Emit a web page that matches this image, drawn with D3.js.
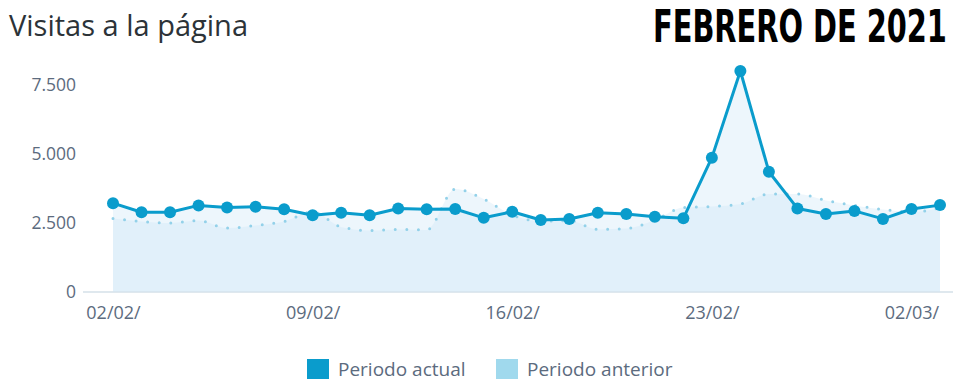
<!DOCTYPE html>
<html><head><meta charset="utf-8">
<script src="https://cdn.jsdelivr.net/npm/d3@7"></script>
<style>
html,body{margin:0;padding:0;background:#fff;}
svg{display:block;}
</style></head>
<body>
<svg id="chart" width="962" height="389"></svg>
<script>
const dates = ["02/02","03/02","04/02","05/02","06/02","07/02","08/02","09/02","10/02","11/02",
  "12/02","13/02","14/02","15/02","16/02","17/02","18/02","19/02","20/02","21/02",
  "22/02","23/02","24/02","25/02","26/02","27/02","28/02","01/03","02/03","03/03"];
const actual = [3200,2870,2870,3120,3040,3070,2980,2760,2850,2760,
  3010,2980,2990,2670,2890,2590,2630,2850,2810,2710,
  2650,4850,7990,4340,3010,2810,2920,2630,2990,3130];
const previous = [2645,2540,2480,2570,2300,2390,2540,2880,2340,2210,
  2250,2230,3710,3350,2770,2550,2570,2250,2280,2590,
  3040,3080,3170,3530,3530,3300,3120,2970,2880,3025];
const yTicks = [0,2500,5000,7500];
const xTickDates = ["02/02","09/02","16/02","23/02","02/03"];
const seriesNames = ["Periodo actual","Periodo anterior"];
const seriesColors = ["#0a9ccc","#a0d9ed"];

const svg = d3.select("#chart");
const x = d3.scalePoint().domain(dates).range([113, 940]);
const y = d3.scaleLinear().domain([0, 7500]).range([291.5, 84.5]);

const loc = d3.formatLocale({decimal:",", thousands:".", grouping:[3], currency:["",""]});
const fmt = loc.format(",");

// baseline
svg.append("line").attr("x1", 83).attr("x2", 953)
  .attr("y1", y(0)+0.5).attr("y2", y(0)+0.5)
  .attr("stroke", "#dfe8ee").attr("stroke-width", 2);

// areas
const areaFill = "rgb(205,230,247)";
const areaPrev = d3.area().x((d,i)=>x(dates[i])).y0(y(0)).y1(d=>y(d)).curve(d3.curveMonotoneX);
const areaCur = d3.area().x((d,i)=>x(dates[i])).y0(y(0)).y1(d=>y(d));
svg.append("path").datum(previous).attr("d", areaPrev).attr("fill", areaFill).attr("fill-opacity", 0.36);
svg.append("path").datum(actual).attr("d", areaCur).attr("fill", areaFill).attr("fill-opacity", 0.36);

// previous dotted line
const linePrev = d3.line().x((d,i)=>x(dates[i])).y(d=>y(d)).curve(d3.curveMonotoneX);
svg.append("path").datum(previous).attr("d", linePrev)
  .attr("fill","none").attr("stroke", "#93d1e9").attr("stroke-width", 3)
  .attr("stroke-linecap","round").attr("stroke-dasharray","0 11.6");

// current line
const lineCur = d3.line().x((d,i)=>x(dates[i])).y(d=>y(d));
svg.append("path").datum(actual).attr("d", lineCur)
  .attr("fill","none").attr("stroke", seriesColors[0]).attr("stroke-width", 3)
  .attr("stroke-linejoin","round");
svg.append("g").selectAll("circle").data(actual).join("circle")
  .attr("cx",(d,i)=>x(dates[i])).attr("cy", d=>y(d)).attr("r", 6)
  .attr("fill", seriesColors[0]);

// y axis
const yAxis = svg.append("g").attr("transform","translate(76,0)")
  .call(d3.axisLeft(y).tickValues(yTicks).tickFormat(fmt).tickSize(0).tickPadding(0));
yAxis.select(".domain").remove();
yAxis.selectAll("text").attr("font-family","'Open Sans', sans-serif").attr("font-size",17.5)
  .attr("fill","#5c6b7e");

// x axis
const xAxis = svg.append("g").attr("transform","translate(0,"+(y(0))+")")
  .call(d3.axisBottom(x).tickValues(xTickDates).tickFormat(d=>d+"/").tickSize(0).tickPadding(15));
xAxis.select(".domain").remove();
xAxis.selectAll("text").attr("font-family","'Open Sans', sans-serif").attr("font-size",18)
  .attr("fill","#5c6b7e");

// title
svg.append("text").attr("x",9).attr("y",36).text("Visitas a la página")
  .attr("font-family","'Open Sans', sans-serif").attr("font-size",29).attr("fill","#2c3338");

const stamp = svg.append("text").attr("x",0).attr("y",0).text("FEBRERO DE 2021")
  .attr("font-family","'Liberation Sans Narrow','DejaVu Sans Condensed',sans-serif")
  .attr("font-weight","bold").attr("font-size",44).attr("fill","#000");
const natW = stamp.node().getComputedTextLength() || 296;
const sx = Math.min(1, 294 / natW);
stamp.attr("transform", `translate(653,42) scale(${sx},1)`);

// legend
const legX = [307, 496];
const leg = svg.append("g").selectAll("g").data(seriesNames).join("g")
  .attr("transform",(d,i)=>`translate(${legX[i]},359)`);
leg.append("rect").attr("width",22).attr("height",20).attr("fill",(d,i)=>seriesColors[i]);
leg.append("text").attr("x",31).attr("y",16.5).text(d=>d)
  .attr("font-family","'Open Sans', sans-serif").attr("font-size",19).attr("fill","#5c6b7e");
</script>
</body></html>
